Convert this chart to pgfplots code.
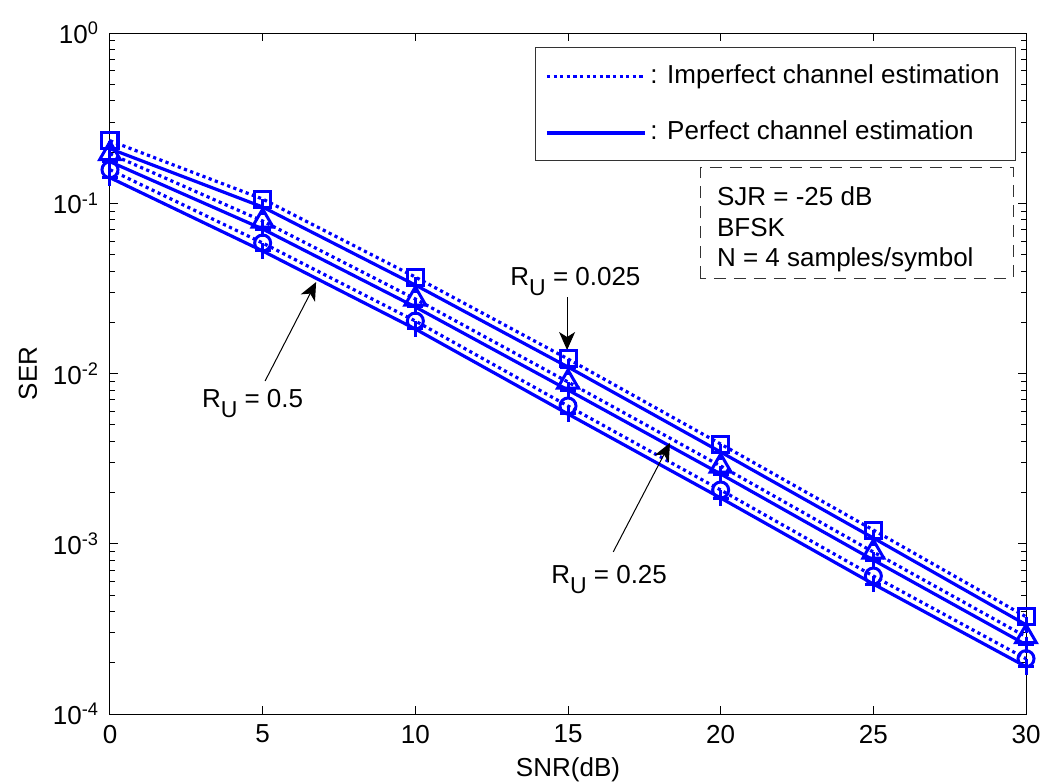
\documentclass[border=0pt]{standalone}
\usepackage{fontspec}
\setmainfont{Liberation Sans}
\usepackage{pgfplots}
\pgfplotsset{compat=1.18}
\usetikzlibrary{arrows.meta}
\definecolor{mblue}{RGB}{0,0,255}
\newcommand{\RU}{R\raisebox{-0.42em}{\fontsize{11.5}{12}\selectfont U}}
\begin{document}
\fontsize{13}{15.6}\selectfont
\begin{tikzpicture}
\begin{axis}[
  at={(0,0)}, anchor=south west,
  scale only axis, width=458pt, height=340.5pt,
  xmin=0, xmax=30, ymode=log, ymin=1e-4, ymax=1,
  clip=false,
  xtick={0,5,10,15,20,25,30},
  ytick={1e-4,1e-3,1e-2,1e-1,1},
  yticklabels={10\textsuperscript{-4},10\textsuperscript{-3},10\textsuperscript{-2},10\textsuperscript{-1},10\textsuperscript{0}},
  minor ytick={2e-4,3e-4,4e-4,5e-4,6e-4,7e-4,8e-4,9e-4,2e-3,3e-3,4e-3,5e-3,6e-3,7e-3,8e-3,9e-3,2e-2,3e-2,4e-2,5e-2,6e-2,7e-2,8e-2,9e-2,2e-1,3e-1,4e-1,5e-1,6e-1,7e-1,8e-1,9e-1},
  /pgf/number format/assume math mode=true,
  tick align=inside,
  major tick length=4pt, minor tick length=2.5pt,
  every tick/.style={black, line width=0.5pt},
  axis line style={black, line width=0.5pt},
  ticklabel style={font=\fontsize{13}{15.6}\selectfont},
  xticklabel style={yshift=-1pt},
  yticklabel style={xshift=-1pt},
  xlabel={SNR(dB)}, ylabel={SER},
  xlabel style={at={(rel axis cs:0.5,0)}, anchor=center, yshift=-28pt, font=\fontsize{13}{15.6}\selectfont},
  ylabel style={at={(rel axis cs:0,0.5)}, anchor=center, yshift=41pt, font=\fontsize{13}{15.6}\selectfont},
  every axis plot/.append style={line width=1.6pt},
]
% R_U = 0.025, imperfect
\addplot[mblue, dash pattern=on 1.6pt off 1.7pt, mark=square, mark size=4pt, mark options={solid, line width=1.5pt}]
  coordinates {(0,0.2330) (5,0.1059) (10,0.03687) (15,0.01217) (20,0.003853) (25,0.001204) (30,3.727e-4)};
% R_U = 0.025, perfect
\addplot[mblue, mark=+, mark size=4pt, mark options={solid, line width=1.5pt}]
  coordinates {(0,0.2091) (5,0.09505) (10,0.03310) (15,0.01092) (20,0.003459) (25,0.001081) (30,3.345e-4)};
% R_U = 0.25, imperfect
\addplot[mblue, dash pattern=on 1.6pt off 1.7pt, mark=triangle, mark size=6pt, mark options={solid, line width=1.5pt}]
  coordinates {(0,0.1954) (5,0.07865) (10,0.02739) (15,0.008914) (20,0.002862) (25,8.943e-4) (30,2.844e-4)};
% R_U = 0.25, perfect
\addplot[mblue, mark=+, mark size=4pt, mark options={solid, line width=1.5pt}]
  coordinates {(0,0.1754) (5,0.07060) (10,0.02459) (15,0.008001) (20,0.002569) (25,8.027e-4) (30,2.553e-4)};
% R_U = 0.5, imperfect
\addplot[mblue, dash pattern=on 1.6pt off 1.7pt, mark=o, mark size=4pt, mark options={solid, line width=1.5pt}]
  coordinates {(0,0.1574) (5,0.05842) (10,0.02034) (15,0.006444) (20,0.002069) (25,6.464e-4) (30,2.113e-4)};
% R_U = 0.5, perfect
\addplot[mblue, mark=+, mark size=4pt, mark options={solid, line width=1.5pt}]
  coordinates {(0,0.1413) (5,0.05244) (10,0.01826) (15,0.005784) (20,0.001857) (25,5.802e-4) (30,1.897e-4)};

% legend box
\draw[black!80, line width=0.5pt, fill=white] (rel axis cs:0.464,0.8135) rectangle (rel axis cs:0.988,0.9794);
\draw[mblue, line width=1.6pt, dash pattern=on 1.6pt off 1.7pt] (rel axis cs:0.477,0.9365) -- (rel axis cs:0.584,0.9365);
\draw[mblue, line width=1.6pt] (rel axis cs:0.477,0.8533) -- (rel axis cs:0.584,0.8533);
\node[anchor=base west, inner sep=0pt] at (rel axis cs:0.5895,0.9261) {: Imperfect channel estimation};
\node[anchor=base west, inner sep=0pt] at (rel axis cs:0.5895,0.8429) {: Perfect channel estimation};

% parameter box
\draw[black!80, line width=0.5pt, dash pattern=on 6pt off 4pt] (rel axis cs:0.6441,0.6402) rectangle (rel axis cs:0.9858,0.8018);
\node[anchor=base west, inner sep=0pt] at (rel axis cs:0.6623,0.7474) {SJR = -25 dB};
\node[anchor=base west, inner sep=0pt] at (rel axis cs:0.6623,0.7009) {BFSK};
\node[anchor=base west, inner sep=0pt] at (rel axis cs:0.6623,0.6569) {N = 4 samples/symbol};

% annotations
\node[anchor=base west, inner sep=0pt] at (axis cs:13.10,0.03310) {\RU{} = 0.025};
\draw[-{Stealth[length=9pt,width=8pt,inset=2.5pt]}, line width=0.5pt] (axis cs:14.97,0.0281) -- (axis cs:14.97,0.01374);
\node[anchor=base west, inner sep=0pt] at (axis cs:3.0,0.006357) {\RU{} = 0.5};
\draw[-{Stealth[length=9pt,width=8pt,inset=2.5pt]}, line width=0.5pt] (axis cs:5.08,0.00904) -- (axis cs:6.75,0.03446);
\node[anchor=base west, inner sep=0pt] at (axis cs:14.44,5.88e-4) {\RU{} = 0.25};
\draw[-{Stealth[length=9pt,width=8pt,inset=2.5pt]}, line width=0.5pt] (axis cs:16.48,8.95e-4) -- (axis cs:18.34,0.00391);
\end{axis}
\pgfresetboundingbox
\path (-55pt,-33.5pt) rectangle (468.5pt,357pt);
\end{tikzpicture}
\end{document}
